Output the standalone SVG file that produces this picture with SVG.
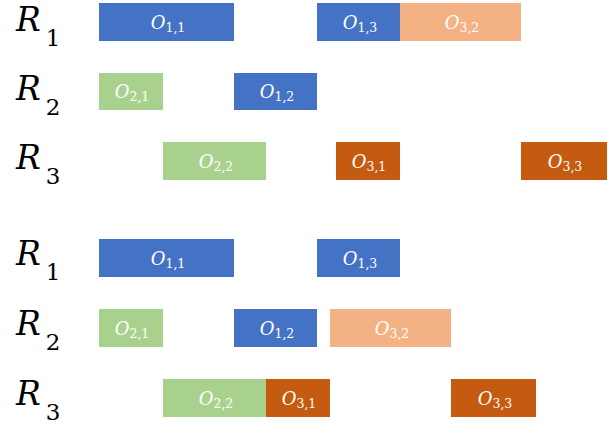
<svg xmlns="http://www.w3.org/2000/svg" width="608" height="425" viewBox="0 0 608 425">
  <style>
    .res { font-family: "DejaVu Serif", "Liberation Serif", serif; fill: #000; }
    .res .v { font-style: italic; font-size: 33px; }
    .res .s { font-size: 23px; }
    .op text { font-family: "DejaVu Serif", "Liberation Serif", serif; fill: #fff; text-anchor: middle; }
    .op .v { font-style: italic; font-size: 18px; }
    .op .s { font-size: 12.5px; }
    .m1 rect { fill: #4472C4; }
    .m2 rect { fill: #A9D18E; }
    .m3 rect { fill: #F4B183; }
    .m4 rect { fill: #C55A11; }
  </style>

  <!-- resource row labels -->
  <g id="labels" class="res">
    <text x="16" y="31"><tspan class="v">R</tspan><tspan class="s" dx="5" dy="15">1</tspan></text>
    <text x="16" y="100"><tspan class="v">R</tspan><tspan class="s" dx="5" dy="15">2</tspan></text>
    <text x="16" y="169"><tspan class="v">R</tspan><tspan class="s" dx="5" dy="15">3</tspan></text>
    <text x="16" y="265"><tspan class="v">R</tspan><tspan class="s" dx="5" dy="15">1</tspan></text>
    <text x="16" y="335"><tspan class="v">R</tspan><tspan class="s" dx="5" dy="15">2</tspan></text>
    <text x="16" y="405"><tspan class="v">R</tspan><tspan class="s" dx="5" dy="15">3</tspan></text>
  </g>

  <!-- first schedule -->
  <g id="a_o11" class="op m1"><rect x="99" y="3" width="135" height="38"/><text x="168" y="29"><tspan class="v">O</tspan><tspan class="s" dy="3">1,1</tspan></text></g>
  <g id="a_o13" class="op m1"><rect x="317" y="3" width="83" height="38"/><text x="360" y="29"><tspan class="v">O</tspan><tspan class="s" dy="3">1,3</tspan></text></g>
  <g id="a_o32" class="op m3"><rect x="400" y="3" width="121" height="38"/><text x="462" y="29"><tspan class="v">O</tspan><tspan class="s" dy="3">3,2</tspan></text></g>
  <g id="a_o21" class="op m2"><rect x="99" y="73" width="64" height="37"/><text x="132" y="98"><tspan class="v">O</tspan><tspan class="s" dy="3">2,1</tspan></text></g>
  <g id="a_o12" class="op m1"><rect x="234" y="73" width="83" height="37"/><text x="277" y="98"><tspan class="v">O</tspan><tspan class="s" dy="3">1,2</tspan></text></g>
  <g id="a_o22" class="op m2"><rect x="163" y="142" width="103" height="38"/><text x="216" y="168"><tspan class="v">O</tspan><tspan class="s" dy="3">2,2</tspan></text></g>
  <g id="a_o31" class="op m4"><rect x="336" y="142" width="64" height="38"/><text x="369" y="168"><tspan class="v">O</tspan><tspan class="s" dy="3">3,1</tspan></text></g>
  <g id="a_o33" class="op m4"><rect x="521" y="142" width="86" height="38"/><text x="565" y="168"><tspan class="v">O</tspan><tspan class="s" dy="3">3,3</tspan></text></g>

  <!-- second schedule -->
  <g id="b_o11" class="op m1"><rect x="99" y="239" width="135" height="38"/><text x="168" y="265"><tspan class="v">O</tspan><tspan class="s" dy="3">1,1</tspan></text></g>
  <g id="b_o13" class="op m1"><rect x="317" y="239" width="83" height="38"/><text x="360" y="265"><tspan class="v">O</tspan><tspan class="s" dy="3">1,3</tspan></text></g>
  <g id="b_o21" class="op m2"><rect x="99" y="309" width="64" height="38"/><text x="132" y="335"><tspan class="v">O</tspan><tspan class="s" dy="3">2,1</tspan></text></g>
  <g id="b_o12" class="op m1"><rect x="234" y="309" width="83" height="38"/><text x="277" y="335"><tspan class="v">O</tspan><tspan class="s" dy="3">1,2</tspan></text></g>
  <g id="b_o32" class="op m3"><rect x="330" y="309" width="121" height="38"/><text x="392" y="335"><tspan class="v">O</tspan><tspan class="s" dy="3">3,2</tspan></text></g>
  <g id="b_o22" class="op m2"><rect x="163" y="379" width="103" height="38"/><text x="216" y="405"><tspan class="v">O</tspan><tspan class="s" dy="3">2,2</tspan></text></g>
  <g id="b_o31" class="op m4"><rect x="266" y="379" width="64" height="38"/><text x="299" y="405"><tspan class="v">O</tspan><tspan class="s" dy="3">3,1</tspan></text></g>
  <g id="b_o33" class="op m4"><rect x="451" y="379" width="85" height="38"/><text x="495" y="405"><tspan class="v">O</tspan><tspan class="s" dy="3">3,3</tspan></text></g>
</svg>
